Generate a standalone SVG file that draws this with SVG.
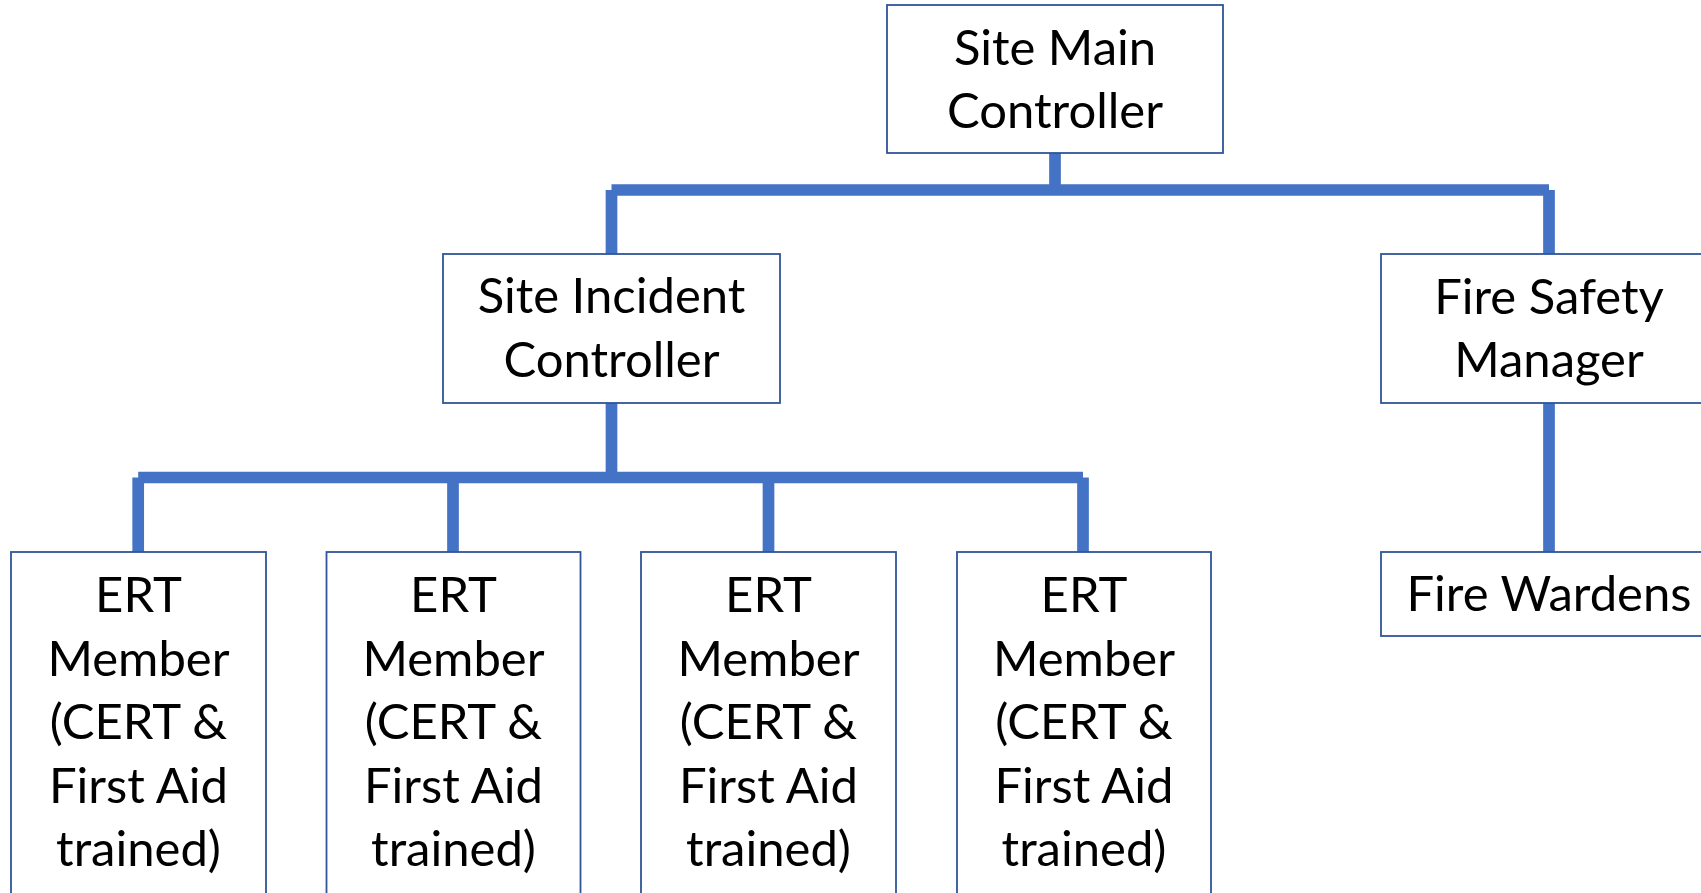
<svg xmlns="http://www.w3.org/2000/svg" width="1701" height="893" viewBox="0 0 1701 893">
<style>
.box{fill:#fff;stroke:#2F5597;stroke-width:1.8}
.t{font-family:Lato,"Open Sans","Liberation Sans",sans-serif;font-size:49px;fill:#000;text-anchor:middle}
.c{stroke:#4472C4;stroke-width:11.7;fill:none;stroke-linecap:butt}
</style>
<rect width="1701" height="893" fill="#fff"/>
<g id="connectors">
<line class="c" x1="1055" y1="153" x2="1055" y2="190"/>
<line class="c" x1="611.5" y1="190" x2="1549" y2="190"/>
<line class="c" x1="611.5" y1="190" x2="611.5" y2="254"/>
<line class="c" x1="1549" y1="190" x2="1549" y2="254"/>
<line class="c" x1="611.5" y1="403" x2="611.5" y2="477.5"/>
<line class="c" x1="138.2" y1="477.5" x2="1083" y2="477.5"/>
<line class="c" x1="138.2" y1="477.5" x2="138.2" y2="552"/>
<line class="c" x1="453" y1="477.5" x2="453" y2="552"/>
<line class="c" x1="768.5" y1="477.5" x2="768.5" y2="552"/>
<line class="c" x1="1083" y1="477.5" x2="1083" y2="552"/>
<line class="c" x1="1549" y1="403" x2="1549" y2="552"/>
</g>
<g id="site-main">
<rect class="box" x="887" y="5" width="336" height="148"/>
<text class="t" x="1055" y="65">Site Main</text>
<text class="t" x="1055" y="128">Controller</text>
</g>
<g id="site-incident">
<rect class="box" x="443" y="254" width="337" height="149"/>
<text class="t" x="611.5" y="313">Site Incident</text>
<text class="t" x="611.5" y="377">Controller</text>
</g>
<g id="fire-safety">
<rect class="box" x="1381" y="254" width="337" height="149"/>
<text class="t" x="1549" y="314">Fire Safety</text>
<text class="t" x="1549" y="377">Manager</text>
</g>
<g id="fire-wardens">
<rect class="box" x="1381" y="552" width="337" height="84"/>
<text class="t" x="1549" y="611">Fire Wardens</text>
</g>
<g id="ert1">
<rect class="box" x="11" y="552" width="255" height="360"/>
<text class="t" x="138.5" y="612">ERT</text>
<text class="t" x="138.5" y="676">Member</text>
<text class="t" x="138.5" y="739">(CERT &amp;</text>
<text class="t" x="138.5" y="803">First Aid</text>
<text class="t" x="138.5" y="866">trained)</text>
</g>
<g id="ert2">
<rect class="box" x="326.5" y="552" width="254" height="360"/>
<text class="t" x="453.5" y="612">ERT</text>
<text class="t" x="453.5" y="676">Member</text>
<text class="t" x="453.5" y="739">(CERT &amp;</text>
<text class="t" x="453.5" y="803">First Aid</text>
<text class="t" x="453.5" y="866">trained)</text>
</g>
<g id="ert3">
<rect class="box" x="641" y="552" width="255" height="360"/>
<text class="t" x="768.5" y="612">ERT</text>
<text class="t" x="768.5" y="676">Member</text>
<text class="t" x="768.5" y="739">(CERT &amp;</text>
<text class="t" x="768.5" y="803">First Aid</text>
<text class="t" x="768.5" y="866">trained)</text>
</g>
<g id="ert4">
<rect class="box" x="957" y="552" width="254" height="360"/>
<text class="t" x="1084" y="612">ERT</text>
<text class="t" x="1084" y="676">Member</text>
<text class="t" x="1084" y="739">(CERT &amp;</text>
<text class="t" x="1084" y="803">First Aid</text>
<text class="t" x="1084" y="866">trained)</text>
</g>
</svg>
